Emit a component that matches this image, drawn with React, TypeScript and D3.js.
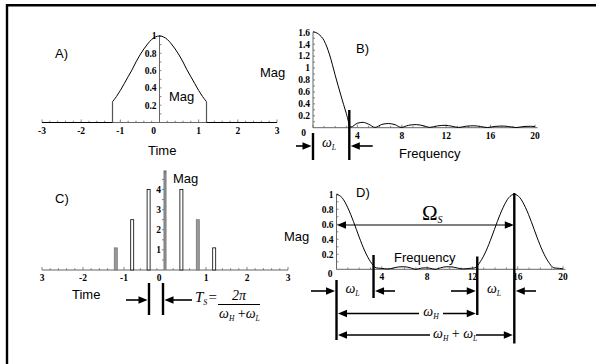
import React from 'react';
import * as d3 from 'd3';

// ---------- data ----------
const A_TIME = [-1.2, -1.1, -1.0, -0.9, -0.8, -0.7, -0.6, -0.5, -0.4, -0.3, -0.2, -0.1, 0, 0.1, 0.2, 0.3, 0.4, 0.5, 0.6, 0.7, 0.8, 0.9, 1.0, 1.1, 1.2];
const A_MAG = [0.24, 0.3, 0.37, 0.45, 0.53, 0.61, 0.7, 0.78, 0.85, 0.91, 0.96, 0.99, 1.0, 0.99, 0.96, 0.91, 0.85, 0.78, 0.7, 0.61, 0.53, 0.45, 0.37, 0.3, 0.24];
const A_XTICKS = [-3, -2, -1, 0, 1, 2, 3];
const A_XLABELS = ['-3', '-2', '-1', '0', '1', '2', '3'];
const A_YTICKS = [0.2, 0.4, 0.6, 0.8, 1];
const A_YLABELS = ['0.2', '0.4', '0.6', '0.8', '1'];

const B_FREQ = [0, 0.5, 1, 1.5, 2, 2.5, 3, 3.4, 4, 4.5, 5, 5.6, 6.2, 6.8, 7.4, 7.95, 8.6, 9.3, 10, 10.5, 11.2, 11.9, 12.5, 13.1, 13.8, 14.5, 15.1, 15.7, 16.4, 17.0, 17.6, 18.3, 19.0, 19.6, 20];
const B_MAG = [1.61, 1.57, 1.46, 1.22, 0.88, 0.55, 0.24, 0.01, 0.075, 0.09, 0.06, 0.005, 0.055, 0.07, 0.05, 0.005, 0.04, 0.052, 0.03, 0.005, 0.03, 0.04, 0.025, 0.004, 0.025, 0.032, 0.02, 0.003, 0.022, 0.028, 0.02, 0.003, 0.02, 0.024, 0.02];
const B_XTICKS = [4, 8, 12, 16, 20];
const B_YTICKS = [0.2, 0.4, 0.6, 0.8, 1, 1.2, 1.4, 1.6];
const B_YLABELS = ['0.2', '0.4', '0.6', '0.8', '1', '1.2', '1.4', '1.6'];

const C_TIME = [-1.2, -0.8, -0.4, 0, 0.4, 0.8, 1.2];
const C_MAG = [1.1, 2.5, 4.0, 4.8, 4.0, 2.5, 1.1];
const C_XTICKS = [-3, -2, -1, 0, 1, 2, 3];
const C_XLABELS = ['3', '-2', '-1', '0', '1', '2', '3'];
const C_YTICKS = [1, 2, 3, 4];

const D_FREQ = [0, 0.5, 1, 1.5, 2, 2.5, 3, 3.5, 4, 4.5, 5, 5.5, 6, 6.5, 7, 7.5, 7.85, 8.2, 8.7, 9.2, 9.7, 10.2, 10.7, 11.2, 11.7, 12.2, 12.7, 13.2, 13.7, 14.2, 14.7, 15.2, 15.7, 16.2, 16.7, 17.2, 17.7, 18.2, 18.7, 19.2, 19.7, 20];
const D_MAG = [1, 0.953, 0.82, 0.636, 0.43, 0.243, 0.102, 0.019, 0.012, 0.005, 0.016, 0.032, 0.034, 0.02, 0, 0.016, 0.02, 0.016, 0, 0.02, 0.034, 0.032, 0.016, 0.005, 0.012, 0.019, 0.102, 0.243, 0.43, 0.636, 0.82, 0.953, 1, 0.953, 0.82, 0.636, 0.43, 0.243, 0.102, 0.019, 0.012, 0.005];
const D_XTICKS = [4, 8, 12, 16, 20];
const D_YTICKS = [0.2, 0.4, 0.6, 0.8, 1];
const D_YLABELS = ['0.2', '0.4', '0.6', '0.8', '1'];

const OMEGA_L = 3.27;
const OMEGA_H = 12.43;
const OMEGA_S = 15.7;

// ---------- helpers ----------
const SANS = 'Liberation Sans, Arial, sans-serif';
const SERIF = 'Liberation Serif, Times New Roman, serif';

function Arrow({ x, y, dir, len = 9, h = 3.8 }: { x: number; y: number; dir: number; len?: number; h?: number }) {
  const bx = x - dir * len;
  return <polygon points={`${x},${y} ${bx},${y - h} ${bx},${y + h}`} fill="#000" />;
}

function Omega({ x, y, sub, anchor = 'middle', size = 14 }: { x: number; y: number; sub: string; anchor?: string; size?: number }) {
  return (
    <text x={x} y={y} fontFamily={SERIF} fontStyle="italic" fontSize={size} textAnchor={anchor as any}>
      ω<tspan fontSize={size * 0.55} dy={3}>{sub}</tspan>
    </text>
  );
}

const tickFont = { fontFamily: SERIF, fontWeight: 700, fontSize: 9.5 } as const;

export default function App() {
  const xA = d3.scaleLinear().domain([-3, 3]).range([42, 277]);
  const yA = d3.scaleLinear().domain([0, 1]).range([122.5, 36]);
  const xB = d3.scaleLinear().domain([0, 20]).range([313, 535]);
  const yB = d3.scaleLinear().domain([0, 1.6]).range([127.7, 32.3]);
  const xC = d3.scaleLinear().domain([-3, 3]).range([42, 288]);
  const yC = d3.scaleLinear().domain([0, 4]).range([270, 189.5]);
  const xD = d3.scaleLinear().domain([0, 20]).range([336.5, 563]);
  const yD = d3.scaleLinear().domain([0, 1]).range([269.3, 194.3]);

  const lineA = d3.line<number>().x((_, i) => xA(A_TIME[i])).y((d) => yA(d)).curve(d3.curveCatmullRom);
  const lineB = d3.line<number>().x((_, i) => xB(B_FREQ[i])).y((d) => yB(d)).curve(d3.curveMonotoneX);
  const lineD = d3.line<number>().x((_, i) => xD(D_FREQ[i])).y((d) => yD(d)).curve(d3.curveMonotoneX);

  const axisCol = '#666';
  const grayIdx = new Set([0, 3, 5]);

  const aMinor = d3.range(-3, 3.001, 0.2);
  const aYMinor = d3.range(0.1, 1.001, 0.1);
  const bMinor = d3.range(0, 20.001, 1);
  const bYMinor = d3.range(0.1, 1.601, 0.1);
  const cMinor = d3.range(-3, 3.001, 0.2);
  const cYMinor = d3.range(0.5, 4.501, 0.5);
  const dMinor = d3.range(0, 20.001, 1);
  const dYMinor = d3.range(0.1, 1.001, 0.1);

  return (
    <svg width={596} height={364} style={{ position: 'absolute', left: 0, top: 0, background: '#fff' }}>
      <rect x={0} y={0} width={596} height={364} fill="#fff" />
      {/* frame */}
      <line x1={7} y1={5.3} x2={596} y2={5.3} stroke="#000" strokeWidth={2.4} />
      <line x1={7} y1={4.1} x2={7} y2={364} stroke="#000" strokeWidth={2.4} />

      {/* ================= Panel A ================= */}
      <g>
        <line x1={xA(-3)} y1={yA(0)} x2={xA(3)} y2={yA(0)} stroke={axisCol} strokeWidth={1} />
        <line x1={xA(0)} y1={yA(0)} x2={xA(0)} y2={yA(1) - 1} stroke={axisCol} strokeWidth={1} />
        {aMinor.map((t, i) => (
          <line key={'am' + i} x1={xA(t)} x2={xA(t)} y1={yA(0)} y2={yA(0) - (Math.abs(t - Math.round(t)) < 1e-6 ? 3 : 1.8)} stroke={axisCol} strokeWidth={0.8} />
        ))}
        {aYMinor.map((v, i) => (
          <line key={'ay' + i} x1={xA(0)} x2={xA(0) + 2} y1={yA(v)} y2={yA(v)} stroke={axisCol} strokeWidth={0.8} />
        ))}
        {A_XTICKS.map((t, i) => (
          <text key={'ax' + i} x={t === 0 ? xA(t) - 6 : xA(t)} y={yA(0) + 11} textAnchor="middle" {...tickFont}>{A_XLABELS[i]}</text>
        ))}
        {A_YTICKS.map((v, i) => (
          <text key={'ayl' + i} x={xA(0) - 3} y={yA(v) + 3.3} textAnchor="end" {...tickFont}>{A_YLABELS[i]}</text>
        ))}
        <line x1={xA(-3)} y1={yA(0)} x2={xA(A_TIME[0])} y2={yA(0)} stroke="#000" strokeWidth={1} />
        <line x1={xA(A_TIME[0])} y1={yA(0)} x2={xA(A_TIME[0])} y2={yA(A_MAG[0])} stroke="#555" strokeWidth={1.2} />
        <path d={lineA(A_MAG) || ''} fill="none" stroke="#000" strokeWidth={1} />
        <line x1={xA(A_TIME[A_TIME.length - 1])} y1={yA(0)} x2={xA(A_TIME[A_TIME.length - 1])} y2={yA(A_MAG[A_MAG.length - 1])} stroke="#555" strokeWidth={1.2} />
        <line x1={xA(A_TIME[A_TIME.length - 1])} y1={yA(0)} x2={xA(3)} y2={yA(0)} stroke="#000" strokeWidth={1} />
        <text x={55} y={58} fontFamily={SANS} fontSize={13}>A)</text>
        <text x={169} y={100.5} fontFamily={SANS} fontSize={13}>Mag</text>
        <text x={148} y={154.5} fontFamily={SANS} fontSize={13}>Time</text>
      </g>

      {/* ================= Panel B ================= */}
      <g>
        <line x1={xB(0)} y1={yB(0)} x2={xB(20) + 2.5} y2={yB(0)} stroke={axisCol} strokeWidth={1} />
        <line x1={xB(0)} y1={yB(0)} x2={xB(0)} y2={yB(1.6)} stroke={axisCol} strokeWidth={1} />
        {bMinor.map((f, i) => (
          <line key={'bm' + i} x1={xB(f)} x2={xB(f)} y1={yB(0)} y2={yB(0) - (f % 4 === 0 ? 3 : 1.8)} stroke={axisCol} strokeWidth={0.8} />
        ))}
        {bYMinor.map((v, i) => (
          <line key={'by' + i} x1={xB(0)} x2={xB(0) + 2} y1={yB(v)} y2={yB(v)} stroke={axisCol} strokeWidth={0.8} />
        ))}
        {B_XTICKS.map((f, i) => (
          <text key={'bx' + i} x={xB(f)} y={yB(0) + 11} textAnchor="middle" {...tickFont}>{String(f)}</text>
        ))}
        <text x={xB(0) - 7} y={yB(0) + 8} textAnchor="end" {...tickFont}>0</text>
        {B_YTICKS.map((v, i) => (
          <text key={'byl' + i} x={xB(0) - 3} y={yB(v) + 3.3} textAnchor="end" {...tickFont}>{B_YLABELS[i]}</text>
        ))}
        <path d={lineB(B_MAG) || ''} fill="none" stroke="#000" strokeWidth={1} />
        <line x1={xB(OMEGA_L)} y1={110} x2={xB(OMEGA_L)} y2={160} stroke="#000" strokeWidth={2.4} />
        <line x1={xB(0)} y1={133} x2={xB(0)} y2={160} stroke="#000" strokeWidth={2.4} />
        <line x1={296} y1={146} x2={xB(0) - 6} y2={146} stroke="#000" strokeWidth={1.6} />
        <Arrow x={xB(0) - 1.5} y={146} dir={1} />
        <line x1={xB(OMEGA_L) + 6} y1={146} x2={372.7} y2={146} stroke="#000" strokeWidth={1.6} />
        <Arrow x={xB(OMEGA_L) + 1.5} y={146} dir={-1} />
        <Omega x={329} y={147} sub="L" />
        <text x={356} y={52.5} fontFamily={SANS} fontSize={13}>B)</text>
        <text x={260} y={76.5} fontFamily={SANS} fontSize={13}>Mag</text>
        <text x={399} y={157.5} fontFamily={SANS} fontSize={13}>Frequency</text>
      </g>

      {/* ================= Panel C ================= */}
      <g>
        <line x1={xC(-3)} y1={yC(0)} x2={xC(3)} y2={yC(0)} stroke={axisCol} strokeWidth={1} />
        {cMinor.map((t, i) => (
          <line key={'cm' + i} x1={xC(t)} x2={xC(t)} y1={yC(0)} y2={yC(0) - (Math.abs(t - Math.round(t)) < 1e-6 ? 3 : 1.8)} stroke={axisCol} strokeWidth={0.8} />
        ))}
        {cYMinor.map((v, i) => (
          <line key={'cy' + i} x1={xC(0) - 3} x2={xC(0)} y1={yC(v)} y2={yC(v)} stroke={axisCol} strokeWidth={0.8} />
        ))}
        {C_XTICKS.map((t, i) => (
          <text key={'cx' + i} x={t === 0 ? xC(t) - 6 : xC(t)} y={yC(0) + 11} textAnchor="middle" {...tickFont}>{C_XLABELS[i]}</text>
        ))}
        {C_YTICKS.map((v, i) => (
          <text key={'cyl' + i} x={xC(0) - 4} y={yC(v) + 3.3} textAnchor="end" {...tickFont}>{String(v)}</text>
        ))}
        {C_TIME.map((t, i) =>
          t === 0 ? null : (
            <rect key={'cb' + i} x={xC(t) - 1.5} y={yC(C_MAG[i])} width={3} height={yC(0) - yC(C_MAG[i])}
              fill={grayIdx.has(i) ? '#999' : '#fff'} stroke={grayIdx.has(i) ? '#777' : '#000'} strokeWidth={0.8} />
          )
        )}
        <line x1={xC(0)} y1={yC(0)} x2={xC(0)} y2={yC(4.95)} stroke="#777" strokeWidth={3} />
        <line x1={xC(0)} y1={yC(0)} x2={xC(0)} y2={yC(C_MAG[3])} stroke="#888" strokeWidth={2} />
        <line x1={149} y1={283} x2={149} y2={315} stroke="#000" strokeWidth={2.4} />
        <line x1={163} y1={283} x2={163} y2={315} stroke="#000" strokeWidth={2.4} />
        <line x1={126} y1={300} x2={141} y2={300} stroke="#000" strokeWidth={1.6} />
        <Arrow x={147.5} y={300} dir={1} />
        <line x1={171} y1={300} x2={192} y2={300} stroke="#000" strokeWidth={1.6} />
        <Arrow x={164.5} y={300} dir={-1} />
        <text x={195} y={302} fontFamily={SERIF} fontStyle="italic" fontSize={15}>T<tspan fontSize={8} dy={3}>S</tspan></text>
        <text x={208.5} y={302} fontFamily={SERIF} fontSize={15}>=</text>
        <text x={239} y={300} fontFamily={SERIF} fontStyle="italic" fontSize={14} textAnchor="middle">2π</text>
        <line x1={218} y1={304.5} x2={260} y2={304.5} stroke="#000" strokeWidth={1} />
        <text x={219} y={318} fontFamily={SERIF} fontStyle="italic" fontSize={14}>
          ω<tspan fontSize={7.5} dy={3}>H</tspan><tspan dy={-3} fontStyle="normal" fontSize={14}> +</tspan>ω<tspan fontSize={7.5} dy={3}>L</tspan>
        </text>
        <text x={55} y={202.5} fontFamily={SANS} fontSize={13}>C)</text>
        <text x={173} y={182.5} fontFamily={SANS} fontSize={13}>Mag</text>
        <text x={72} y={298.5} fontFamily={SANS} fontSize={13}>Time</text>
      </g>

      {/* ================= Panel D ================= */}
      <g>
        <line x1={xD(0)} y1={yD(0)} x2={xD(20) + 2.5} y2={yD(0)} stroke={axisCol} strokeWidth={1} />
        <line x1={xD(0)} y1={yD(0)} x2={xD(0)} y2={yD(1)} stroke={axisCol} strokeWidth={1} />
        {dMinor.map((f, i) => (
          <line key={'dm' + i} x1={xD(f)} x2={xD(f)} y1={yD(0)} y2={yD(0) - (f % 4 === 0 ? 3 : 1.8)} stroke={axisCol} strokeWidth={0.8} />
        ))}
        {dYMinor.map((v, i) => (
          <line key={'dy' + i} x1={xD(0)} x2={xD(0) + 2} y1={yD(v)} y2={yD(v)} stroke={axisCol} strokeWidth={0.8} />
        ))}
        {D_XTICKS.map((f, i) => (
          <text key={'dx' + i} x={xD(f)} y={yD(0) + 11} textAnchor="middle" {...tickFont}>{String(f)}</text>
        ))}
        <text x={xD(0) - 4} y={yD(0) + 8} textAnchor="end" {...tickFont}>0</text>
        {D_YTICKS.map((v, i) => (
          <text key={'dyl' + i} x={xD(0) - 3} y={yD(v) + 3.3} textAnchor="end" {...tickFont}>{D_YLABELS[i]}</text>
        ))}
        <path d={lineD(D_MAG) || ''} fill="none" stroke="#000" strokeWidth={1} />

        <line x1={xD(0) + 6} y1={225} x2={xD(OMEGA_S) - 6} y2={225} stroke="#000" strokeWidth={1.2} />
        <Arrow x={xD(0) + 0.5} y={225} dir={-1} />
        <Arrow x={xD(OMEGA_S) - 0.5} y={225} dir={1} />
        <text x={422} y={220} fontFamily={SERIF} fontSize={21}>Ω<tspan fontSize={10} fontStyle="italic" dy={3}>S</tspan></text>

        <line x1={xD(0)} y1={280} x2={xD(0)} y2={340} stroke="#000" strokeWidth={2.4} />
        <line x1={xD(OMEGA_L)} y1={255} x2={xD(OMEGA_L)} y2={298} stroke="#000" strokeWidth={2.4} />
        <line x1={xD(OMEGA_H)} y1={256.5} x2={xD(OMEGA_H)} y2={315} stroke="#000" strokeWidth={2.4} />
        <line x1={xD(OMEGA_S)} y1={193} x2={xD(OMEGA_S)} y2={343.5} stroke="#000" strokeWidth={2.4} />

        <line x1={311} y1={291} x2={xD(0) - 6} y2={291} stroke="#000" strokeWidth={1.6} />
        <Arrow x={xD(0) - 1.5} y={291} dir={1} />
        <line x1={xD(OMEGA_L) + 6} y1={291} x2={395} y2={291} stroke="#000" strokeWidth={1.6} />
        <Arrow x={xD(OMEGA_L) + 1.5} y={291} dir={-1} />
        <Omega x={352.5} y={293} sub="L" />
        <line x1={451} y1={291} x2={xD(OMEGA_H) - 6} y2={291} stroke="#000" strokeWidth={1.6} />
        <Arrow x={xD(OMEGA_H) - 1.5} y={291} dir={1} />
        <line x1={xD(OMEGA_S) + 6} y1={291} x2={536} y2={291} stroke="#000" strokeWidth={1.6} />
        <Arrow x={xD(OMEGA_S) + 1.5} y={291} dir={-1} />
        <Omega x={494} y={293} sub="L" />

        <line x1={xD(0) + 6} y1={313.5} x2={xD(OMEGA_H) - 6} y2={313.5} stroke="#000" strokeWidth={1.6} />
        <Arrow x={xD(0) + 1.5} y={313.5} dir={-1} />
        <Arrow x={xD(OMEGA_H) - 1.5} y={313.5} dir={1} />
        <rect x={419} y={306} width={24} height={14} fill="#fff" />
        <Omega x={431} y={316} sub="H" />

        <line x1={xD(0) + 6} y1={335} x2={xD(OMEGA_S) - 6} y2={335} stroke="#000" strokeWidth={1.6} />
        <Arrow x={xD(0) + 1.5} y={335} dir={-1} />
        <Arrow x={xD(OMEGA_S) - 1.5} y={335} dir={1} />
        <rect x={430} y={328} width={46} height={14} fill="#fff" />
        <text x={433} y={338} fontFamily={SERIF} fontStyle="italic" fontSize={14}>
          ω<tspan fontSize={7.5} dy={3}>H</tspan><tspan dy={-3} fontStyle="normal" fontSize={14}> + </tspan>ω<tspan fontSize={7.5} dy={3}>L</tspan>
        </text>

        <text x={356} y={196.5} fontFamily={SANS} fontSize={13}>D)</text>
        <text x={284} y={240.5} fontFamily={SANS} fontSize={13}>Mag</text>
        <text x={394} y={261.5} fontFamily={SANS} fontSize={13}>Frequency</text>
      </g>
    </svg>
  );
}
